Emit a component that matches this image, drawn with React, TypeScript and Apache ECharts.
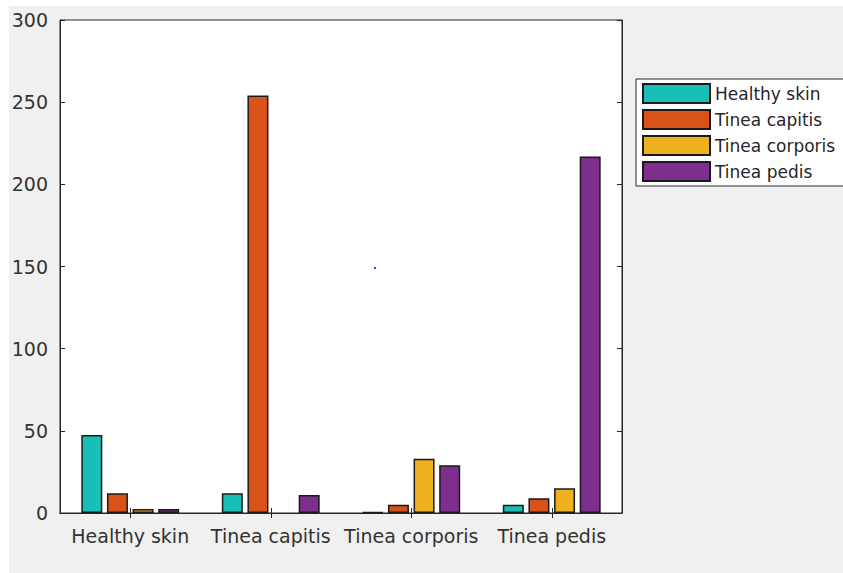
import React, { useEffect, useRef } from "react";
import * as echarts from "echarts";

const categories = ["Healthy skin", "Tinea capitis", "Tinea corporis", "Tinea pedis"];
const seriesNames = ["Healthy skin", "Tinea capitis", "Tinea corporis", "Tinea pedis"];
const healthySkin = [47.5, 12, 0.5, 5];
const tineaCapitis = [12, 254, 5, 9];
const tineaCorporis = [2.5, null, 33, 15];
const tineaPedis = [2.5, 11, 29, 217];
const colors = ["#18bfb6", "#d95319", "#edb120", "#7e2f8e"];
const yTicks = { min: 0, max: 300, interval: 50 };

const FONT = "DejaVu Sans";
const AXIS = "#262626";

export default function App() {
  const ref = useRef<HTMLDivElement>(null);
  useEffect(() => {
    if (!ref.current) return;
    const chart = echarts.init(ref.current, null, { renderer: "svg" });
    const values = [healthySkin, tineaCapitis, tineaCorporis, tineaPedis];
    const axisCommon = {
      axisLine: { show: true, lineStyle: { color: AXIS, width: 1 } },
      axisTick: { show: true, inside: true, length: 5, alignWithLabel: true, lineStyle: { color: AXIS } },
      splitLine: { show: false },
    };
    chart.setOption({
      animation: false,
      backgroundColor: "#ffffff",
      graphic: [
        {
          type: "rect",
          z: -10,
          silent: true,
          shape: { x: 9, y: 6, width: 834, height: 567 },
          style: { fill: "#f0f0f0" },
        },
        {
          type: "rect",
          z: 100,
          silent: true,
          shape: { x: 374, y: 267, width: 2, height: 2 },
          style: { fill: "#3344ff" },
        },
      ],
      grid: {
        left: 60,
        top: 20,
        width: 562,
        height: 493,
        show: true,
        backgroundColor: "#ffffff",
        borderColor: AXIS,
        borderWidth: 1,
      },
      legend: {
        orient: "vertical",
        left: 636,
        top: 79,
        data: seriesNames,
        itemWidth: 67,
        itemHeight: 19,
        itemGap: 5,
        padding: [4, 12, 4, 6],
        backgroundColor: "#ffffff",
        borderColor: AXIS,
        borderWidth: 1,
        borderRadius: 0,
        icon: "rect",
        textStyle: { fontFamily: FONT, fontSize: 17, color: "#262626", padding: [0, 0, 0, 0] },
      },
      xAxis: [
        {
          type: "category",
          data: categories,
          position: "bottom",
          ...axisCommon,
          axisLabel: { interval: 0, fontFamily: FONT, fontSize: 19, color: "#333333", margin: 13 },
        },
        {
          type: "category",
          data: categories,
          position: "top",
          ...axisCommon,
          axisLabel: { show: false },
        },
      ],
      yAxis: [
        {
          type: "value",
          position: "left",
          ...yTicks,
          ...axisCommon,
          axisLabel: { fontFamily: FONT, fontSize: 19, color: "#333333", margin: 12 },
        },
        {
          type: "value",
          position: "right",
          ...yTicks,
          ...axisCommon,
          axisLabel: { show: false },
        },
      ],
      series: seriesNames.map((name, i) => ({
        name,
        type: "bar",
        data: values[i],
        barWidth: 21,
        barGap: "22%",
        itemStyle: { color: colors[i], borderColor: "#1a1a1a", borderWidth: 1.5 },
      })),
    });
    return () => chart.dispose();
  }, []);
  return (
    <div
      ref={ref}
      style={{ position: "fixed", left: 0, top: 0, width: 843, height: 573 }}
    />
  );
}
